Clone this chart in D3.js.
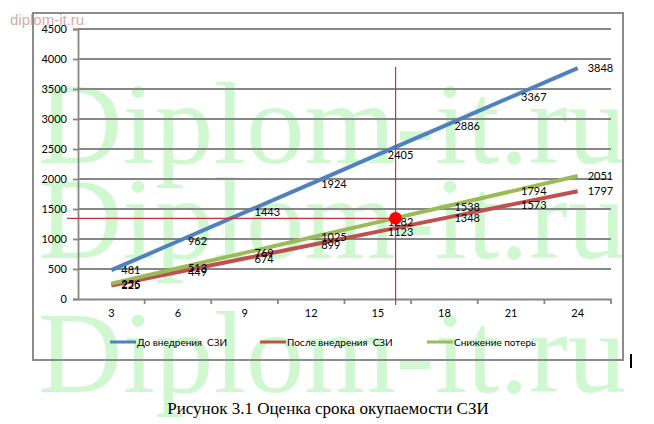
<!DOCTYPE html>
<html>
<head>
<meta charset="utf-8">
<script src="https://cdn.jsdelivr.net/npm/d3@7"></script>
<style>
  html, body { margin: 0; padding: 0; background: #ffffff; }
  svg { display: block; }
  text { white-space: pre; }
</style>
</head>
<body>
<div id="chart"></div>
<script>
// ---- Data ----
const months = [3, 6, 9, 12, 15, 18, 21, 24];
const before = [481, 962, 1443, 1924, 2405, 2886, 3367, 3848];   // До внедрения СЗИ
const after = [225, 449, 674, 899, 1123, 1348, 1573, 1797];      // После внедрения СЗИ
const savings = [256, 513, 769, 1025, 1282, 1538, 1794, 2051];   // Снижение потерь
const seriesNames = ["До внедрения  СЗИ", "После внедрения  СЗИ", "Снижение потерь"];
const seriesColors = ["#4f81bd", "#c0504d", "#9bbb59"];
const yTicks = [0, 500, 1000, 1500, 2000, 2500, 3000, 3500, 4000, 4500];
const payback = { month: 15.8, value: 1345, top: 3870 };
const caption = "Рисунок 3.1 Оценка срока окупаемости СЗИ";
const watermarkBig = "Diplom-it.ru";
const watermarkSmall = "diplom-it.ru";

// ---- Layout ----
const W = 654, H = 424;
const plot = { left: 78, right: 611, top: 29, bottom: 299 };
const frame = { left: 33, top: 13, right: 623, bottom: 360 };

const svg = d3.select("#chart").append("svg")
  .attr("width", W).attr("height", H)
  .attr("viewBox", `0 0 ${W} ${H}`);

svg.append("rect").attr("width", W).attr("height", H).attr("fill", "#ffffff");

// Big watermark (behind chart)
const wm = svg.append("g").attr("class", "watermark");
[163, 258, 392].forEach(b => {
  wm.append("text")
    .attr("x", 38).attr("y", b)
    .attr("font-family", "'Liberation Serif', 'Times New Roman', serif")
    .attr("font-size", 117)
    .attr("fill", "#d0f8d0")
    .text(watermarkBig);
});

// small watermark top-left
svg.append("text")
  .attr("x", 10).attr("y", 25)
  .attr("font-family", "'Liberation Sans', Arial, sans-serif")
  .attr("font-size", 15)
  .attr("fill", "#d4aaae")
  .text(watermarkSmall);

// chart frame
svg.append("rect")
  .attr("x", frame.left).attr("y", frame.top)
  .attr("width", frame.right - frame.left).attr("height", frame.bottom - frame.top)
  .attr("fill", "none").attr("stroke", "#8c8c8c").attr("stroke-width", 2);

// ---- Scales ----
const x = d3.scaleBand().domain(months).range([plot.left, plot.right]).padding(0);
const bw = x.bandwidth();
const cx = m => x(m) + bw / 2;
const xLin = d3.scaleLinear()
  .domain([months[0], months[months.length - 1]])
  .range([cx(months[0]), cx(months[months.length - 1])]);
const y = d3.scaleLinear().domain([0, 4500]).range([plot.bottom, plot.top]);

const labelFont = "Lato, 'Open Sans', sans-serif";
const gridColor = "#878787";

// Gridlines
svg.append("g")
  .selectAll("line").data(yTicks.filter(v => v > 0)).join("line")
  .attr("x1", plot.left).attr("x2", plot.right)
  .attr("y1", d => y(d)).attr("y2", d => y(d))
  .attr("stroke", gridColor).attr("stroke-width", 1.8);

// Y axis
const yAxis = svg.append("g")
  .attr("transform", `translate(${plot.left},0)`)
  .call(d3.axisLeft(y).tickValues(yTicks).tickSize(5).tickPadding(6).tickFormat(d3.format("d")));
yAxis.select(".domain").attr("stroke", gridColor).attr("stroke-width", 1.8);
yAxis.selectAll(".tick line").attr("stroke", gridColor).attr("stroke-width", 1.8);
yAxis.selectAll(".tick text").attr("font-family", labelFont).attr("font-size", 11).attr("fill", "#000");

// X axis (labels at band centres, ticks at band edges)
const xAxis = svg.append("g")
  .attr("transform", `translate(0,${plot.bottom})`)
  .call(d3.axisBottom(x).tickSize(0).tickPadding(10));
xAxis.select(".domain").attr("stroke", gridColor).attr("stroke-width", 1.8);
xAxis.selectAll(".tick text").attr("font-family", labelFont).attr("font-size", 11).attr("fill", "#000");
const edges = months.map(m => x(m)).concat([x(months[months.length - 1]) + bw]);
svg.append("g").selectAll("line").data(edges.slice(1)).join("line")
  .attr("x1", d => d).attr("x2", d => d)
  .attr("y1", plot.bottom).attr("y2", plot.bottom + 5)
  .attr("stroke", gridColor).attr("stroke-width", 1.8);

// Series
const series = [before, after, savings];
const line = d3.line().x((d, i) => cx(months[i])).y(d => y(d));
series.forEach((vals, si) => {
  svg.append("path")
    .datum(vals)
    .attr("d", line)
    .attr("fill", "none")
    .attr("stroke", seriesColors[si])
    .attr("stroke-width", 4)
    .attr("stroke-linecap", "butt");
});

// Crosshair (payback point)
const px = xLin(payback.month), py = y(payback.value);
svg.append("line")
  .attr("x1", px).attr("x2", px)
  .attr("y1", y(payback.top)).attr("y2", plot.bottom + 6)
  .attr("stroke", "#c8323c").attr("stroke-width", 1.2);
svg.append("line")
  .attr("x1", plot.left - 11).attr("x2", px + 4)
  .attr("y1", py).attr("y2", py)
  .attr("stroke", "#c8323c").attr("stroke-width", 1.2);

// Data labels
series.forEach((vals, si) => {
  svg.append("g").selectAll("text").data(vals).join("text")
    .attr("x", (d, i) => cx(months[i]) + 10)
    .attr("y", d => y(d))
    .attr("dy", "0.36em")
    .attr("font-family", labelFont)
    .attr("font-size", 11)
    .attr("fill", "#000")
    .text(d => d);
});

// Payback dot
svg.append("circle")
  .attr("cx", px).attr("cy", py).attr("r", 6.3)
  .attr("fill", "#ff0000");

// Legend
const legendX = [110, 260, 427];
const legendY = 342;
const lg = svg.append("g");
seriesNames.forEach((name, i) => {
  lg.append("line")
    .attr("x1", legendX[i]).attr("x2", legendX[i] + 26)
    .attr("y1", legendY).attr("y2", legendY)
    .attr("stroke", seriesColors[i]).attr("stroke-width", 3);
  lg.append("text")
    .attr("x", legendX[i] + 27).attr("y", legendY).attr("dy", "0.35em")
    .attr("font-family", labelFont).attr("font-size", 10).attr("fill", "#000")
    .text(name);
});

// small cursor mark
svg.append("rect").attr("x", 630).attr("y", 354).attr("width", 2).attr("height", 14).attr("fill", "#000");

// Caption
svg.append("text")
  .attr("x", 328).attr("y", 414)
  .attr("text-anchor", "middle")
  .attr("font-family", "'Liberation Serif', 'Times New Roman', serif")
  .attr("font-size", 17)
  .attr("fill", "#000")
  .text(caption);
</script>
</body>
</html>
